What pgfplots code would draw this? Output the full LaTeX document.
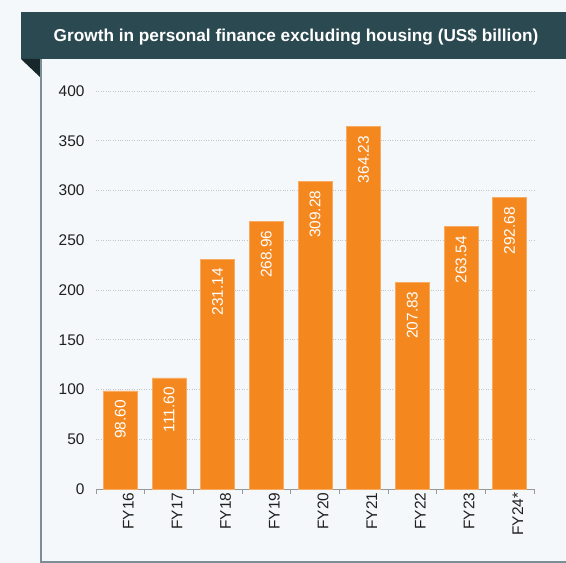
\documentclass[border=0pt]{standalone}
\usepackage{pgfplots}
\pgfplotsset{compat=1.18}
\usepackage{fontspec}
\setmainfont{Liberation Sans}

\definecolor{bg}{HTML}{F5F8FA}
\definecolor{titlebar}{HTML}{2B4950}
\definecolor{fold}{HTML}{18272B}
\definecolor{frame}{HTML}{7D8F96}
\definecolor{barorange}{HTML}{F5871F}

\begin{document}
\begin{tikzpicture}[x=1bp,y=1bp]
% page background and frame
\fill[bg] (0,0) rectangle (566,-563);
\fill[titlebar] (21,-12) rectangle (566,-59);
\fill[fold] (21,-59) -- (41,-59) -- (41,-78) -- cycle;
\draw[frame, line width=1.6bp] (41,-59) -- (41,-562) -- (566,-562);
\node[text=white, font=\bfseries\fontsize{17.3}{20}\selectfont] at (296,-37)
  {Growth in personal finance excluding housing (US\$ billion)};

\begin{axis}[
    at={(96bp,-489bp)}, anchor=south west,
    scale only axis, width=438bp, height=398bp,
    ymin=0, ymax=400, ytick={0,50,...,400},
    xmin=-0.5, xmax=8.5,
    xtick={0,...,8},
    xticklabels={FY16,FY17,FY18,FY19,FY20,FY21,FY22,FY23,FY24*},
    minor xtick={-0.5,0.5,...,8.5},
    major tick length=0pt, minor tick length=5bp,
    tick align=outside,
    axis lines*=left,
    y axis line style={draw=none},
    x axis line style={draw=gray!80, line width=0.8bp},
    minor tick style={draw=gray!80, line width=0.8bp},
    ymajorgrids, grid style={dotted, gray!45, line width=0.6bp},
    tick label style={font=\fontsize{15.5}{18}\selectfont, text=black!88},
    yticklabel style={anchor=east, xshift=-8bp},
    xticklabel style={rotate=90, anchor=east, yshift=-8bp},
    /pgf/number format/assume math mode=true,
    ybar, bar width=34bp,
    nodes near coords={\pgfmathprintnumber[fixed,fixed zerofill,precision=2]{\pgfplotspointmeta}},
    every node near coord/.append style={rotate=90, anchor=east, inner xsep=9bp,
        text=white, font=\fontsize{15.5}{18}\selectfont},
]
\addplot[fill=barorange, draw=barorange!70!white, line width=0.6bp]
  coordinates {(0,98.60) (1,111.60) (2,231.14) (3,268.96) (4,309.28)
               (5,364.23) (6,207.83) (7,263.54) (8,292.68)};
\end{axis}
\pgfresetboundingbox
\path (0,0) rectangle (566,-563);
\end{tikzpicture}
\end{document}
